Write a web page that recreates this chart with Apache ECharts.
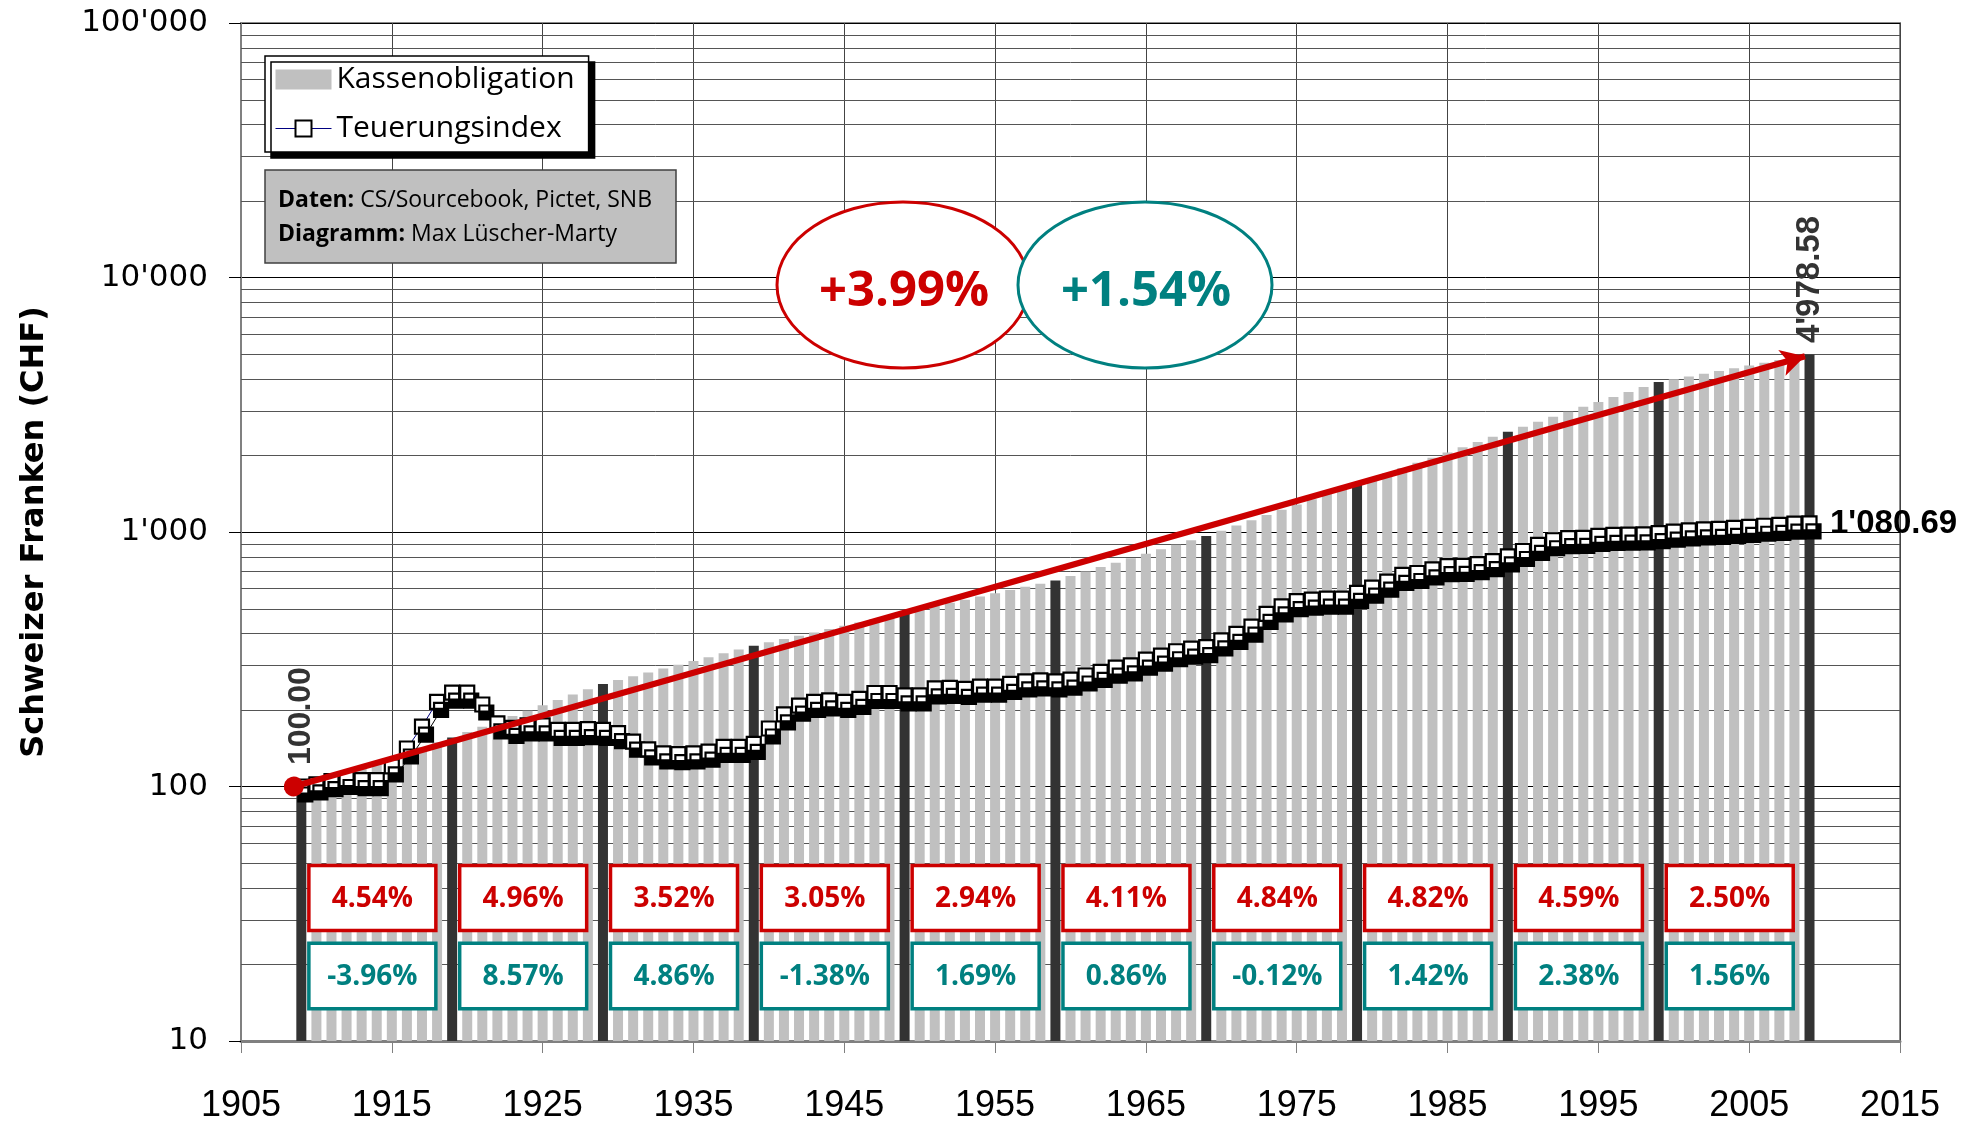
<!DOCTYPE html>
<html><head><meta charset="utf-8">
<script src="https://cdn.jsdelivr.net/npm/echarts@6/dist/echarts.min.js"></script>
<style>html,body{margin:0;padding:0;background:#fff}#c{width:1980px;height:1123px}</style>
</head><body><div id="c"></div>
<script>
const firstYear = 1909;
const kassenobligation = [
  100, 104.54, 109.29, 114.25, 119.44, 124.86, 130.53, 136.46, 142.65, 149.13, 155.90,
  163.63, 171.75, 180.27, 189.21, 198.60, 208.45, 218.79, 229.64, 241.03, 252.99,
  261.91, 271.13, 280.67, 290.55, 300.78, 311.37, 322.33, 333.67, 345.42, 357.58,
  368.51, 379.75, 391.33, 403.27, 415.57, 428.24, 441.30, 454.76, 468.63, 482.92,
  497.10, 511.71, 526.76, 542.24, 558.18, 574.59, 591.49, 608.88, 626.78, 645.21,
  671.72, 699.33, 728.07, 757.99, 789.14, 821.58, 855.35, 890.50, 927.10, 965.20,
  1011.92, 1060.89, 1112.24, 1166.07, 1222.51, 1281.68, 1343.71, 1408.75, 1476.93, 1548.41,
  1623.03, 1701.26, 1783.26, 1869.21, 1959.31, 2053.74, 2152.73, 2256.49, 2365.26, 2479.27,
  2593.10, 2712.12, 2836.61, 2966.81, 3102.98, 3245.41, 3394.37, 3550.17, 3713.13, 3883.56,
  3981.0, 4081.0, 4183.5, 4288.5, 4396.2, 4506.6, 4619.8, 4735.8, 4854.7, 4978.58
];
const teuerungsindex = [
  100, 102, 105, 107, 106, 106, 120, 141, 172, 215, 234,
  234, 210, 177, 170, 174, 174, 167, 167, 168, 167,
  162, 150, 140, 135, 134, 135, 137, 143, 143, 147,
  169, 192, 208, 215, 218, 215, 221, 233, 233, 228,
  228, 243, 244, 242, 247, 247, 253, 259, 261, 259,
  263, 273, 282, 293, 299, 315, 327, 340, 348, 353,
  375, 398, 425, 477, 510, 535, 542, 547, 547, 577,
  605, 638, 678, 690, 713, 735, 736, 748, 768, 802,
  842, 890, 928, 946, 948, 966, 975, 977, 978, 990,
  1004, 1015, 1024, 1028, 1038, 1048, 1058, 1066, 1079, 1080.69
];
const nominalRates = ['4.54%','4.96%','3.52%','3.05%','2.94%','4.11%','4.84%','4.82%','4.59%','2.50%'];
const realRates = ['-3.96%','8.57%','4.86%','-1.38%','1.69%','0.86%','-0.12%','1.42%','2.38%','1.56%'];
const avgNominal = '+3.99%';
const avgReal = '+1.54%';
const seriesNames = ['Kassenobligation', 'Teuerungsindex'];
const infoLines = [['Daten:', ' CS/Sourcebook, Pictet, SNB'], ['Diagramm:', ' Max Lüscher-Marty']];

const RED = '#CC0000', TEAL = '#008080';
const lastIdx = kassenobligation.length - 1;
const lastYear = firstYear + lastIdx;
const kasseData = kassenobligation.map((v, i) => [firstYear + i, v]);
const cpiData = teuerungsindex.map((v, i) => [firstYear + i, v]);
const decadeData = nominalRates.map((t, i) => [firstYear + 10 * i, i]);
const minorGrid = [];
[10, 100, 1000, 10000].forEach(b => { for (let m = 2; m <= 9; m++) minorGrid.push([1905, b * m]); });

function fmt(v, dec) {
  const s = dec ? v.toFixed(dec) : String(Math.round(v));
  const parts = s.split('.');
  parts[0] = parts[0].replace(/\B(?=(\d{3})+(?!\d))/g, "'");
  return parts.join('.');
}

const chart = echarts.init(document.getElementById('c'), null, {renderer: 'canvas'});
const option = {
  animation: false,
  backgroundColor: '#fff',
  grid: {left: 241, right: 80, top: 23, bottom: 82, show: true, borderColor: '#8a8a8a', borderWidth: 2, backgroundColor: 'transparent', outerBoundsMode: 'none', containLabel: false},
  legend: {
    left: 265, top: 56, orient: 'vertical', itemWidth: 56, itemHeight: 20, itemGap: 12,
    padding: [5, 14, 5, 10], backgroundColor: '#fff', borderColor: '#000', borderWidth: 1.5,
    shadowColor: '#000', shadowBlur: 0, shadowOffsetX: 6, shadowOffsetY: 6,
    selectedMode: false,
    textStyle: {fontFamily: 'Open Sans', fontSize: 30, color: '#000', lineHeight: 37},
    data: [
      {name: seriesNames[0], icon: 'rect', itemStyle: {color: '#C0C0C0', borderWidth: 0}},
      {name: seriesNames[1], itemStyle: {shadowColor: 'rgba(0,0,0,0)', shadowOffsetX: 0, shadowOffsetY: 0}, lineStyle: {color: '#000080', width: 1, shadowColor: 'rgba(0,0,0,0)'}}
    ]
  },
  xAxis: {
    type: 'value', min: 1905, max: 2015, interval: 10,
    axisLine: {show: true, onZero: false, lineStyle: {color: '#808080', width: 3}},
    axisTick: {show: true, length: 12, lineStyle: {color: '#808080', width: 1}},
    axisLabel: {fontFamily: '"Liberation Sans", sans-serif', fontSize: 36, color: '#000', margin: 47, showMinLabel: true, showMaxLabel: true, formatter: v => String(v)},
    splitLine: {show: true, lineStyle: {color: '#444', width: 1}}
  },
  yAxis: {
    type: 'log', logBase: 10, min: 10, max: 100000,
    name: 'Schweizer Franken (CHF)', nameLocation: 'middle', nameGap: 190,
    nameTextStyle: {fontFamily: 'DejaVu Sans', fontWeight: 'bold', fontSize: 32, color: '#000'},
    axisLine: {show: true, lineStyle: {color: '#808080', width: 2}},
    axisTick: {show: true, length: 12, lineStyle: {color: '#000', width: 1}},
    axisLabel: {fontFamily: 'DejaVu Sans', fontSize: 31, color: '#000', margin: 33, formatter: v => fmt(v)},
    splitLine: {show: true, lineStyle: {color: '#000', width: 1}}
  },
  series: [
    {
      type: 'custom', z: 1, silent: true, data: minorGrid, encode: {x: 0, y: 1},
      renderItem: (params, api) => {
        const p = api.coord([api.value(0), api.value(1)]);
        const cs = params.coordSys;
        const y = Math.round(p[1]) + 0.5;
        return {type: 'line', shape: {x1: cs.x, y1: y, x2: cs.x + cs.width, y2: y}, style: {stroke: '#555', lineWidth: 1}};
      }
    },
    {
      name: seriesNames[0], type: 'bar', data: kasseData, barWidth: 10, z: 2, clip: true,
      itemStyle: {color: p => ((p.value[0] - firstYear) % 10 === 0 ? '#333333' : '#C0C0C0')}
    },
    {
      name: seriesNames[1], type: 'line', data: cpiData, z: 3, symbol: 'rect', symbolSize: 14,
      showSymbol: true, showAllSymbol: true, clip: false,
      lineStyle: {color: '#000080', width: 1, shadowColor: '#000', shadowBlur: 0, shadowOffsetX: 4, shadowOffsetY: 8},
      itemStyle: {color: '#fff', borderColor: '#000', borderWidth: 2.2, shadowColor: '#000', shadowBlur: 0, shadowOffsetX: 4, shadowOffsetY: 8},
      markLine: {
        silent: true, symbol: ['circle', 'arrow'], symbolSize: [20, 24],
        lineStyle: {color: RED, width: 6, type: 'solid', shadowColor: 'rgba(0,0,0,0)', shadowOffsetX: 0, shadowOffsetY: 0},
        itemStyle: {color: RED, shadowColor: 'rgba(0,0,0,0)'},
        label: {show: false}, emphasis: {disabled: true},
        data: [[{coord: [firstYear - 0.5, kassenobligation[0]]}, {coord: [lastYear - 0.3, kassenobligation[lastIdx] * 0.985]}]]
      },
      markPoint: {
        silent: true, symbol: 'rect', symbolSize: 1,
        itemStyle: {color: 'rgba(0,0,0,0)', borderWidth: 0, shadowColor: 'rgba(0,0,0,0)'},
        data: [
          {coord: [firstYear, kassenobligation[0]], label: {show: true, formatter: fmt(kassenobligation[0], 2), position: 'top', distance: 21, rotate: 90, align: 'left', verticalAlign: 'middle', fontFamily: 'Liberation Sans', fontWeight: 'bold', fontSize: 32, color: '#333'}},
          {coord: [lastYear, kassenobligation[lastIdx]], label: {show: true, formatter: fmt(kassenobligation[lastIdx], 2), position: 'top', distance: 11, rotate: 90, align: 'left', verticalAlign: 'middle', fontFamily: 'Liberation Sans', fontWeight: 'bold', fontSize: 33, color: '#333'}},
          {coord: [lastYear, teuerungsindex[lastIdx]], label: {show: true, formatter: fmt(teuerungsindex[lastIdx], 2), position: 'right', distance: 20, align: 'left', verticalAlign: 'middle', fontFamily: '"Liberation Sans", sans-serif', fontWeight: 'bold', fontSize: 33, color: '#000'}}
        ]
      }
    },
    {
      type: 'custom', z: 4, silent: true, data: decadeData, encode: {x: 0, y: 1},
      renderItem: (params, api) => {
        const x0 = api.value(0), i = api.value(1);
        const a = api.coord([x0 + 0.5, 48.9]), b = api.coord([x0 + 8.92, 27.2]);
        const c = api.coord([x0 + 0.5, 24.2]), d = api.coord([x0 + 8.92, 13.4]);
        const font = 'bold 28px "Open Sans"';
        return {type: 'group', children: [
          {type: 'rect', shape: {x: a[0], y: a[1], width: b[0] - a[0], height: b[1] - a[1]}, style: {fill: '#fff', stroke: RED, lineWidth: 3.5}},
          {type: 'text', style: {text: nominalRates[i], x: (a[0] + b[0]) / 2, y: (a[1] + b[1]) / 2 + 1, align: 'center', verticalAlign: 'middle', textAlign: 'center', textVerticalAlign: 'middle', fill: RED, font: font}},
          {type: 'rect', shape: {x: c[0], y: c[1], width: d[0] - c[0], height: d[1] - c[1]}, style: {fill: '#fff', stroke: TEAL, lineWidth: 3.5}},
          {type: 'text', style: {text: realRates[i], x: (c[0] + d[0]) / 2, y: (c[1] + d[1]) / 2 + 1, align: 'center', verticalAlign: 'middle', textAlign: 'center', textVerticalAlign: 'middle', fill: TEAL, font: font}}
        ]};
      }
    }
  ],
  graphic: [
    {type: 'rect', z: 10, silent: true, shape: {x: 265, y: 170, width: 411, height: 93}, style: {fill: '#C0C0C0', stroke: '#404040', lineWidth: 1.5}},
    {type: 'text', z: 11, silent: true, style: {x: 278, y: 200, text: '{b|' + infoLines[0][0] + '}' + infoLines[0][1], fontFamily: 'Open Sans', fontSize: 23, fill: '#000', verticalAlign: 'middle', textVerticalAlign: 'middle', rich: {b: {fontFamily: 'Open Sans', fontSize: 23, fontWeight: 'bold', fill: '#000'}}}},
    {type: 'text', z: 11, silent: true, style: {x: 278, y: 234, text: '{b|' + infoLines[1][0] + '}' + infoLines[1][1], fontFamily: 'Open Sans', fontSize: 23, fill: '#000', verticalAlign: 'middle', textVerticalAlign: 'middle', rich: {b: {fontFamily: 'Open Sans', fontSize: 23, fontWeight: 'bold', fill: '#000'}}}},
    {type: 'ellipse', z: 10, silent: true, shape: {cx: 903, cy: 285, rx: 126, ry: 83}, style: {fill: '#fff', stroke: RED, lineWidth: 3}},
    {type: 'ellipse', z: 11, silent: true, shape: {cx: 1145, cy: 285, rx: 127, ry: 83}, style: {fill: '#fff', stroke: TEAL, lineWidth: 3}},
    {type: 'text', z: 12, silent: true, style: {x: 904, y: 292, text: avgNominal, font: 'bold 49px "Open Sans"', fill: RED, align: 'center', verticalAlign: 'middle', textAlign: 'center', textVerticalAlign: 'middle'}},
    {type: 'text', z: 12, silent: true, style: {x: 1146, y: 292, text: avgReal, font: 'bold 49px "Open Sans"', fill: TEAL, align: 'center', verticalAlign: 'middle', textAlign: 'center', textVerticalAlign: 'middle'}}
  ]
};
chart.setOption(option);
</script>
</body></html>
